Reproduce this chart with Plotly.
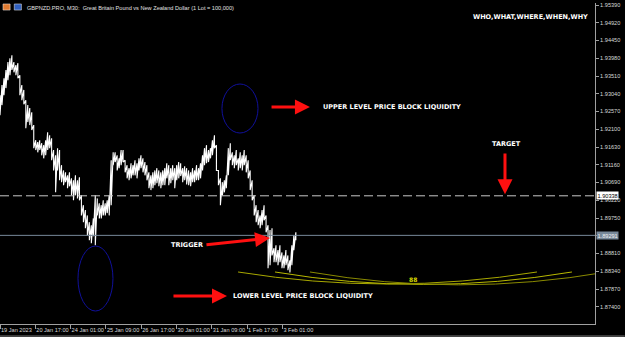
import plotly.graph_objects as go

# ---------------- data ----------------
# trading-time hours since 19 Jan 2023 (one sample every 1.8 h)
times = [round(i * 1.8, 1) for i in range(150)]
highs = [
    1.9300, 1.9327, 1.9345, 1.9367, 1.9388, 1.9398, 1.9406, 1.9388, 1.9380, 1.9385,
    1.9353, 1.9327, 1.9314, 1.9287, 1.9274, 1.9266, 1.9255, 1.9221, 1.9181, 1.9176,
    1.9181, 1.9173, 1.9168, 1.9181, 1.9202, 1.9194, 1.9186, 1.9155, 1.9141, 1.9160,
    1.9155, 1.9115, 1.9101, 1.9096, 1.9088, 1.9096, 1.9080, 1.9075, 1.9088, 1.9075,
    1.9083, 1.9035, 1.9009, 1.8996, 1.8982, 1.8964, 1.8956, 1.8974, 1.9035, 1.9027,
    1.9014, 1.9009, 1.9022, 1.9014, 1.9022, 1.9035, 1.9128, 1.9149, 1.9149, 1.9141,
    1.9133, 1.9155, 1.9155, 1.9128, 1.9115, 1.9107, 1.9120, 1.9115, 1.9128, 1.9120,
    1.9133, 1.9141, 1.9133, 1.9123, 1.9115, 1.9096, 1.9088, 1.9096, 1.9101, 1.9107,
    1.9101, 1.9096, 1.9101, 1.9107, 1.9120, 1.9115, 1.9107, 1.9115, 1.9107, 1.9115,
    1.9123, 1.9120, 1.9107, 1.9112, 1.9107, 1.9101, 1.9096, 1.9107, 1.9101, 1.9115,
    1.9107, 1.9120, 1.9141, 1.9160, 1.9168, 1.9155, 1.9160, 1.9181, 1.9194, 1.9168,
    1.9101, 1.9080, 1.9070, 1.9075, 1.9088, 1.9160, 1.9173, 1.9149, 1.9141, 1.9155,
    1.9133, 1.9149, 1.9141, 1.9155, 1.9141, 1.9128, 1.9101, 1.9075, 1.9035, 1.9009,
    1.8996, 1.8982, 1.8996, 1.9009, 1.8982, 1.8956, 1.8943, 1.8948, 1.8895, 1.8903,
    1.8890, 1.8903, 1.8884, 1.8876, 1.8890, 1.8876, 1.8863, 1.8903, 1.8929, 1.8937,
]
lows = [
    1.9247, 1.9274, 1.9300, 1.9319, 1.9340, 1.9353, 1.9367, 1.9361, 1.9353, 1.9345,
    1.9300, 1.9287, 1.9276, 1.9213, 1.9229, 1.9221, 1.9208, 1.9160, 1.9155, 1.9149,
    1.9155, 1.9141, 1.9133, 1.9141, 1.9155, 1.9160, 1.9128, 1.9101, 1.9043, 1.9101,
    1.9075, 1.9070, 1.9062, 1.9070, 1.9054, 1.9059, 1.9035, 1.9022, 1.9035, 1.9027,
    1.9022, 1.8982, 1.8964, 1.8948, 1.8929, 1.8916, 1.8908, 1.8927, 1.8903, 1.8982,
    1.8974, 1.8974, 1.8982, 1.8982, 1.8988, 1.8982, 1.9009, 1.9115, 1.9123, 1.9101,
    1.9107, 1.9115, 1.9123, 1.9096, 1.9080, 1.9075, 1.9080, 1.9088, 1.9088, 1.9080,
    1.9101, 1.9107, 1.9096, 1.9088, 1.9075, 1.9054, 1.9049, 1.9054, 1.9062, 1.9067,
    1.9059, 1.9054, 1.9062, 1.9062, 1.9080, 1.9062, 1.9067, 1.9075, 1.9054, 1.9075,
    1.9080, 1.9086, 1.9070, 1.9075, 1.9064, 1.9062, 1.9059, 1.9070, 1.9070, 1.9075,
    1.9075, 1.9080, 1.9101, 1.9115, 1.9120, 1.9123, 1.9133, 1.9141, 1.9160, 1.9101,
    1.9062, 1.9009, 1.9035, 1.9043, 1.9054, 1.9088, 1.9128, 1.9115, 1.9107, 1.9115,
    1.9101, 1.9107, 1.9101, 1.9115, 1.9096, 1.9080, 1.9049, 1.9022, 1.8982, 1.8964,
    1.8956, 1.8948, 1.8956, 1.8969, 1.8937, 1.8842, 1.8850, 1.8876, 1.8858, 1.8858,
    1.8850, 1.8858, 1.8842, 1.8842, 1.8850, 1.8837, 1.8831, 1.8850, 1.8890, 1.8916,
]

x_tick_hours = [0, 32, 64, 96, 128, 160, 192, 224, 256]
x_tick_labels = ["19 Jan 2023", "20 Jan 17:00", "24 Jan 01:00", "25 Jan 09:00",
                 "26 Jan 17:00", "30 Jan 01:00", "31 Jan 09:00", "1 Feb 17:00", "3 Feb 01:00"]
y_tick_prices = [1.95390, 1.94920, 1.94450, 1.93980, 1.93510, 1.93040, 1.92570, 1.92100,
                 1.91630, 1.91160, 1.90690, 1.90220, 1.89750, 1.89280, 1.88810, 1.88340,
                 1.87870, 1.87400]
hidden_tick_prices = [1.89280]   # covered by the current-price box
target_level = 1.90338
current_price = 1.89291

x_range = [0, 539.4]
y_range = [1.86944, 1.95443]

# ---------------- figure ----------------
# price drawn as a dense high/low zigzag (bar-chart look)
px_, py_ = [], []
for t, h, l in zip(times, highs, lows):
    px_ += [t, t]
    py_ += [h, l]

fig = go.Figure()
fig.add_trace(go.Scatter(x=px_, y=py_, mode="lines",
                         line=dict(color="#ffffff", width=1.1),
                         hoverinfo="skip", showlegend=False))

lbl_font = dict(family="Liberation Sans", size=5.6, color="#d8d8d8")
bold_font = dict(family="DejaVu Sans", size=6.5, color="#ffffff")

shapes = [
    # target dashed level and current price line
    dict(type="line", xref="paper", x0=0, x1=1, yref="y", y0=target_level, y1=target_level,
         line=dict(color="#c8c8c8", width=1, dash="9px,4px")),
    dict(type="line", xref="paper", x0=0, x1=1, yref="y", y0=current_price, y1=current_price,
         line=dict(color="#778899", width=1)),
    # liquidity ellipses
    dict(type="circle", xref="x", yref="y", x0=201.2, x1=233.9, y0=1.92001, y1=1.93298,
         line=dict(color="#10109a", width=1)),
    dict(type="circle", xref="x", yref="y", x0=70.7, x1=102.4, y0=1.87288, y1=1.89009,
         line=dict(color="#10109a", width=1)),
    # yellow arcs
    dict(type="path", xref="x", yref="y",
         path="M 215.8,1.88321 Q 351.3,1.87685 486.8,1.88321",
         line=dict(color="#a8a800", width=1)),
    dict(type="path", xref="x", yref="y",
         path="M 249.3,1.88321 Q 383.9,1.87660 518.5,1.88321",
         line=dict(color="#b8b800", width=1)),
    dict(type="path", xref="x", yref="y",
         path="M 281.0,1.88321 Q 415.7,1.87640 550.3,1.88321",
         line=dict(color="#8a8a00", width=1)),
    # header icons
    dict(type="rect", xref="paper", yref="paper", x0=0.005, x1=0.017, y0=0.978, y1=0.997,
         fillcolor="#e07a30", line=dict(color="#f0f0f0", width=0.5)),
    dict(type="rect", xref="paper", yref="paper", x0=0.024, x1=0.036, y0=0.978, y1=0.997,
         fillcolor="#3060c0", line=dict(color="#f0f0f0", width=0.5)),
    # bottom window border
    dict(type="line", xref="paper", yref="paper", x0=0, x1=1.05, y0=-0.0375, y1=-0.0375,
         line=dict(color="#808080", width=1)),
]

annotations = [
    dict(xref="paper", yref="paper", x=0, y=1, xanchor="left", yanchor="top",
         xshift=25, yshift=0, showarrow=False,
         text="GBPNZD.PRO, M30:  Great Britain Pound vs New Zealand Dollar (1 Lot = 100,000)",
         font=dict(family="Liberation Sans", size=5.6, color="#e0e0e0")),
    # price labels on axis
    dict(xref="paper", yref="y", x=1, y=target_level, xanchor="left", yanchor="middle",
         xshift=1, showarrow=False, text=f"{target_level:.5f}",
         font=dict(family="Liberation Sans", size=5.6, color="#000000"),
         bgcolor="#ffffff", borderpad=0.5),
    dict(xref="paper", yref="y", x=1, y=current_price, xanchor="left", yanchor="middle",
         xshift=1, showarrow=False, text=f"{current_price:.5f}",
         font=dict(family="Liberation Sans", size=5.6, color="#f0f0f0"),
         bgcolor="#778899", borderpad=0.5),
    # text notes
    dict(x=480.5, y=1.95072, text="<b>WHO,WHAT,WHERE,WHEN,WHY</b>", showarrow=False,
         font=bold_font),
    dict(x=355.8, y=1.92689, text="<b>UPPER LEVEL PRICE BLOCK LIQUIDITY</b>", showarrow=False,
         font=bold_font),
    dict(x=275.1, y=1.87685, text="<b>LOWER LEVEL PRICE BLOCK LIQUIDITY</b>", showarrow=False,
         font=bold_font),
    dict(x=169.5, y=1.89035, text="<b>TRIGGER</b>", showarrow=False, font=bold_font),
    dict(x=459.6, y=1.91709, text="<b>TARGET</b>", showarrow=False, font=bold_font),
    dict(x=374.5, y=1.88130, text="<b>88</b>", showarrow=False,
         font=dict(family="DejaVu Sans", size=6, color="#d8d800")),
    # red arrows
    dict(x=281.0, y=1.92689, ax=244.8, ay=1.92689, axref="x", ayref="y", text="",
         showarrow=True, arrowhead=2, arrowsize=1, arrowwidth=3, arrowcolor="#ff1010"),
    dict(x=244.8, y=1.89221, ax=185.8, ay=1.89035, axref="x", ayref="y", text="",
         showarrow=True, arrowhead=2, arrowsize=1, arrowwidth=3, arrowcolor="#ff1010"),
    dict(x=205.8, y=1.87685, ax=155.9, ay=1.87685, axref="x", ayref="y", text="",
         showarrow=True, arrowhead=2, arrowsize=1, arrowwidth=3, arrowcolor="#ff1010"),
    dict(x=457.8, y=1.90380, ax=457.8, ay=1.91498, axref="x", ayref="y", text="",
         showarrow=True, arrowhead=2, arrowsize=1, arrowwidth=3, arrowcolor="#ff1010"),
]

fig.update_layout(
    width=625, height=337,
    margin=dict(l=0, r=30, t=3, b=13, autoexpand=False),
    paper_bgcolor="#000000", plot_bgcolor="#000000",
    shapes=shapes, annotations=annotations,
    showlegend=False,
    xaxis=dict(range=x_range, tickvals=x_tick_hours, ticktext=x_tick_labels,
               ticks="outside", ticklen=4, tickcolor="#a0a0a0", tickangle=0,
               ticklabelposition="outside right", automargin=False,
               showline=True, linecolor="#a0a0a0", linewidth=1,
               showgrid=False, zeroline=False, tickfont=lbl_font),
    yaxis=dict(range=y_range, side="right", tickvals=y_tick_prices,
               ticktext=["" if v in hidden_tick_prices else f"{v:.5f}" for v in y_tick_prices],
               ticks="outside", ticklen=3, tickcolor="#a0a0a0", automargin=False,
               showline=True, linecolor="#a0a0a0", linewidth=1,
               showgrid=False, zeroline=False, tickfont=lbl_font),
)

fig.write_html("out.html")
